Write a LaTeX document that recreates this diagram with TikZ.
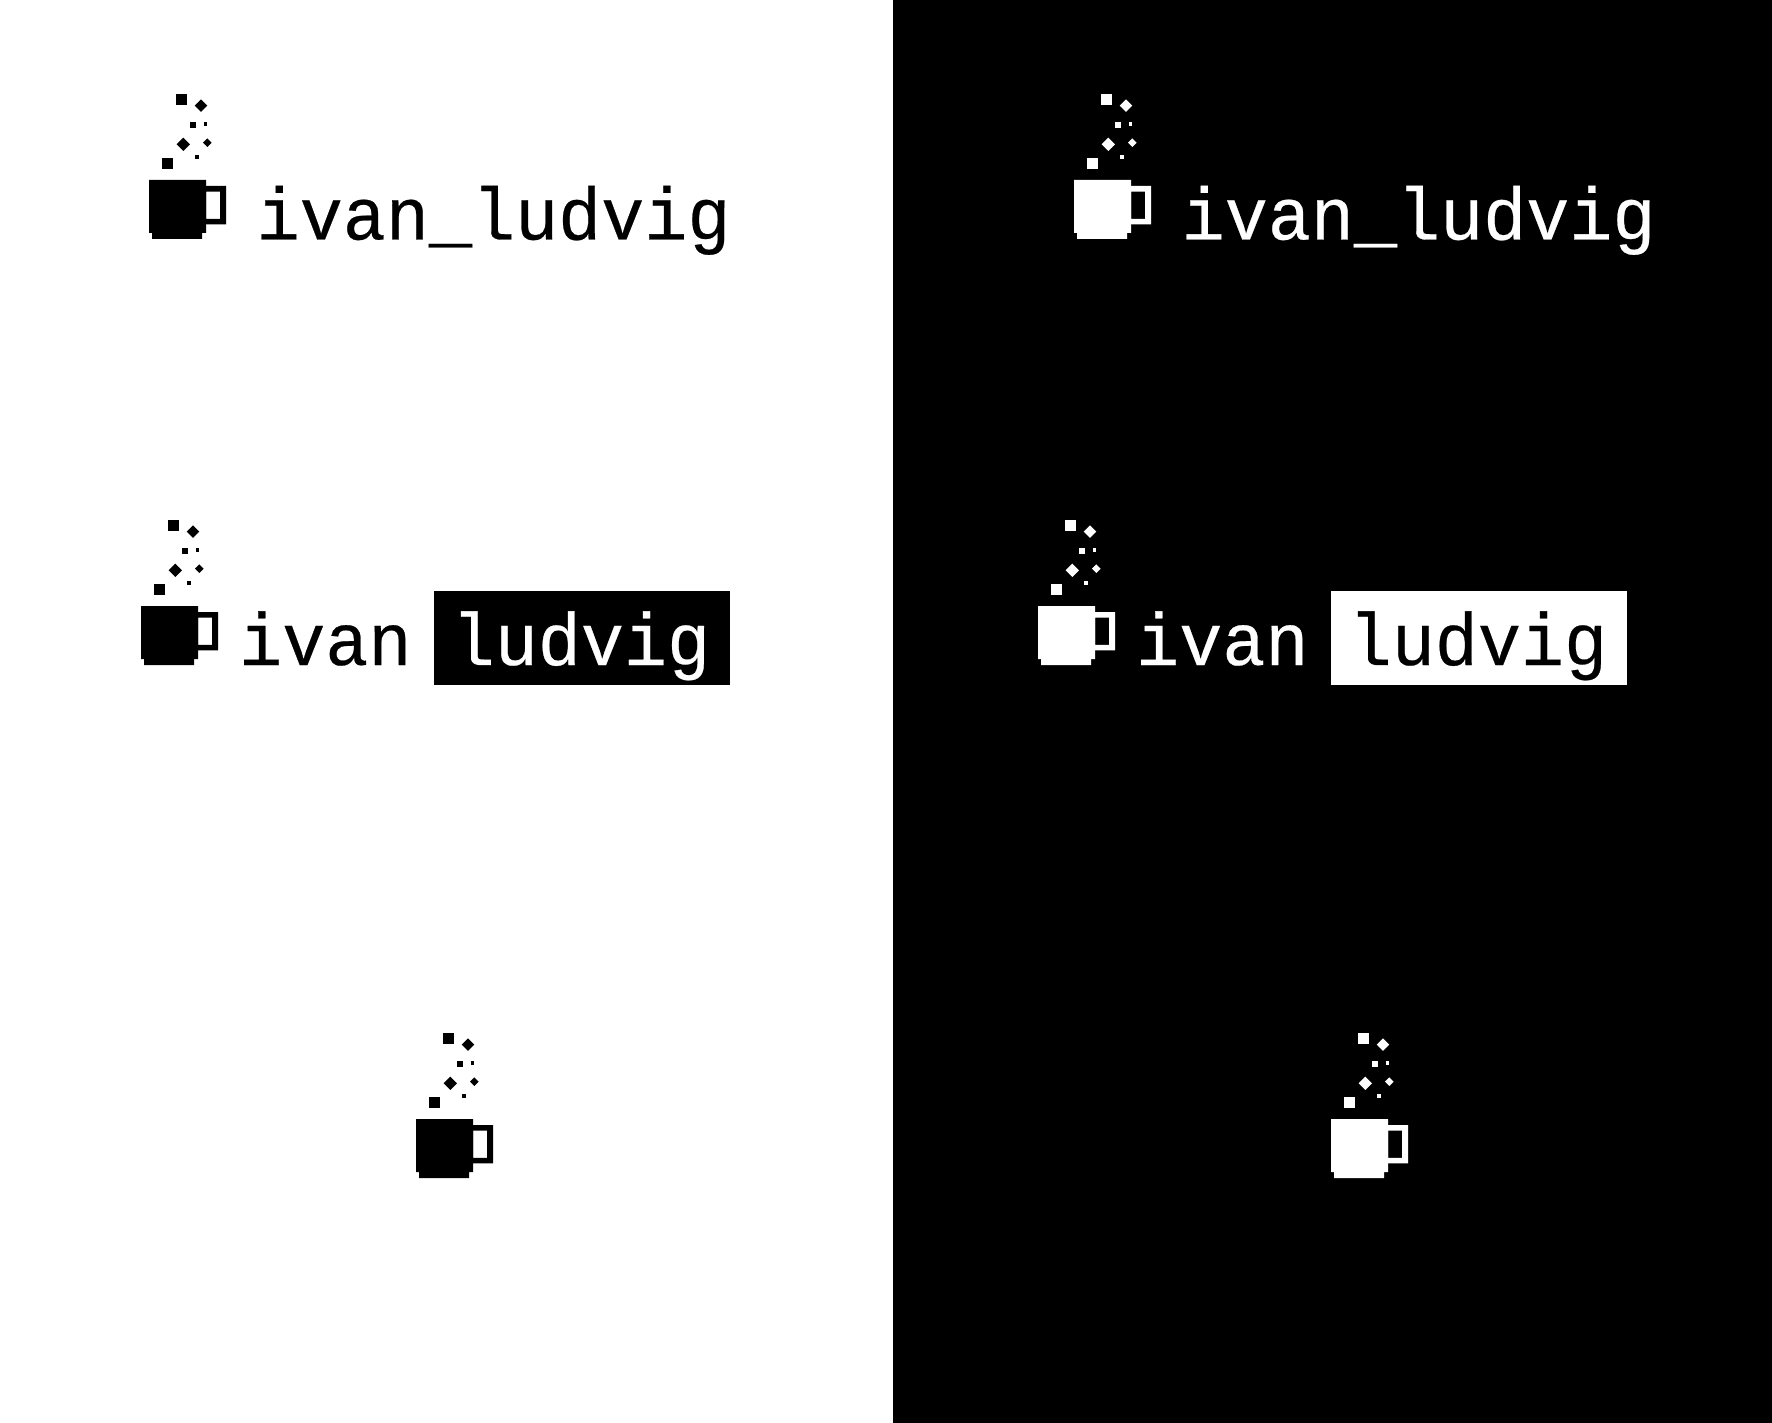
\documentclass[tikz,border=0pt]{standalone}
\usepackage{fontspec}
\newfontfamily\logofont[FakeBold=0.35,FakeStretch=0.97]{Liberation Mono}
\newcommand{\mugmark}[3]{%
 \begin{scope}[shift={(#1,#2)},#3]
  \fill (27.2,-86) rectangle (38.4,-74.8);
  \fill (52,-80.7) -- (58.3,-74.4) -- (52,-68.1) -- (45.7,-74.4) -- cycle;
  \fill (41,-58) rectangle (47.3,-51.7);
  \fill (54.7,-58) rectangle (58.3,-54.3);
  \fill (34.3,-42.4) -- (41,-35.7) -- (34.3,-29) -- (27.6,-35.7) -- cycle;
  \fill (58.3,-41.6) -- (62.6,-37.3) -- (58.3,-33) -- (54,-37.3) -- cycle;
  \fill (46.3,-25) rectangle (49.7,-21.3);
  \fill (13.2,-21.8) rectangle (24.4,-10.6);
  \fill (0,0) -| (57,53) -| (53,59) -| (3,53) -| cycle;
  \fill[even odd rule] (57,6) rectangle (77,44.4) (57,11.6) rectangle (71,38.8);
 \end{scope}}
\tikzset{
 wordmark/.style={font=\logofont\fontsize{74}{74}\selectfont,inner sep=0pt,anchor=base west},
 tag/.style={inner sep=0pt,draw=none}
}
\begin{document}
\begin{tikzpicture}[x=1pt,y=-1pt]
\useasboundingbox (0,0) rectangle (1772,1423);
\fill[white] (0,0) rectangle (893,1423);
\fill[black] (893,0) rectangle (1772,1423);
% left column
\mugmark{149}{180}{black}
\node[wordmark,text=black] (a1) at (256.5,239.5) {ivan\_ludvig};
\mugmark{141}{606}{black}
\node[wordmark,text=black] (a2) at (239,665) {ivan};
\node[tag,fill=black,minimum width=296pt,minimum height=94pt,anchor=north west] (a3) at (434,591) {};
\node[wordmark,text=white] (a4) at (451.5,665) {ludvig};
\mugmark{416}{1119}{black}
% right column
\mugmark{1074}{180}{white}
\node[wordmark,text=white] (b1) at (1181.5,239.5) {ivan\_ludvig};
\mugmark{1038}{606}{white}
\node[wordmark,text=white] (b2) at (1136,665) {ivan};
\node[tag,fill=white,minimum width=296pt,minimum height=94pt,anchor=north west] (b3) at (1331,591) {};
\node[wordmark,text=black] (b4) at (1348.5,665) {ludvig};
\mugmark{1331}{1119}{white}
\end{tikzpicture}
\end{document}
